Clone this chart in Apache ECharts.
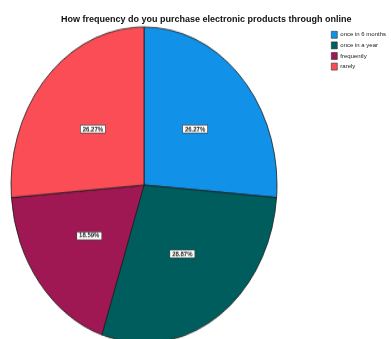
<!DOCTYPE html>
<html>
<head>
<meta charset="utf-8">
<script src="https://cdn.jsdelivr.net/npm/echarts@6/dist/echarts.min.js"></script>
<style>
  html, body { margin: 0; padding: 0; background: #fff; overflow: hidden; }
  #wrap { position: relative; width: 391px; height: 339px; overflow: hidden; }
  #pie, #frame { position: absolute; left: 0; top: 0; width: 391px; height: 339px; }
  /* SPSS-style pies are drawn as an upright ellipse */
  #pie { transform: scaleY(1.188); transform-origin: 144px 185px; }
</style>
</head>
<body>
<div id="wrap">
  <div id="pie"></div>
  <div id="frame"></div>
</div>
<script>
const titleText = 'How frequency do you purchase electronic products through online';
const categories = ['once in 6 months', 'once in a year', 'frequently', 'rarely'];
const percents = [26.27, 28.87, 18.59, 26.27];
const colors = ['#1192e8', '#005d5d', '#9f1853', '#fa4d56'];

const FONT = '"Liberation Sans", Arial, sans-serif';
const sliceData = categories.map((name, i) => ({
  name: name,
  value: percents[i],
  itemStyle: { color: colors[i] }
}));

// Pie itself (stretched vertically by CSS)
const pie = echarts.init(document.getElementById('pie'), null, { renderer: 'canvas' });
pie.setOption({
  animation: false,
  series: [{
    type: 'pie',
    center: [144, 185],
    radius: [0, 133],
    startAngle: 90,
    clockwise: true,
    avoidLabelOverlap: false,
    itemStyle: { borderColor: '#1a1a1a', borderWidth: 0.8 },
    label: {
      show: true,
      position: 'inside',
      formatter: p => p.value.toFixed(2) + '%',
      fontFamily: FONT,
      fontSize: 6,
      fontWeight: 'bold',
      color: '#222',
      backgroundColor: '#ffffff',
      borderColor: '#444',
      borderWidth: 0.6,
      padding: [0, 2],
      lineHeight: 6
    },
    labelLine: { show: false },
    emphasis: { disabled: true },
    data: sliceData
  }]
});

// Title and legend, unstretched
const frame = echarts.init(document.getElementById('frame'), null, { renderer: 'canvas' });
frame.setOption({
  animation: false,
  title: {
    text: titleText,
    left: 56,
    top: 10,
    textStyle: { fontFamily: FONT, fontSize: 9, fontWeight: 'bold', color: '#111' }
  },
  legend: {
    orient: 'vertical',
    left: 326,
    top: 26,
    itemWidth: 6,
    itemHeight: 7,
    itemGap: 3,
    icon: 'rect',
    selectedMode: false,
    itemStyle: { borderColor: '#333', borderWidth: 0.6 },
    textStyle: { fontFamily: FONT, fontSize: 6, color: '#222', padding: [0, 0, 0, -2] },
    data: categories
  },
  series: [{
    type: 'pie',
    radius: [0, 0],
    silent: true,
    label: { show: false },
    data: sliceData
  }]
});
</script>
</body>
</html>
